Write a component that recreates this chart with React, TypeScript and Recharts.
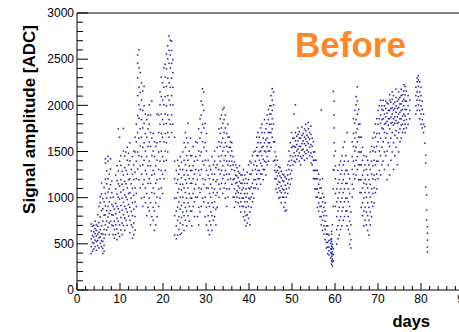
import React from "react";
import { ScatterChart, Scatter, XAxis, YAxis, ReferenceLine } from "recharts";

type Col = [number, number[]];

// [day, amplitudes measured on that day]
const runA: Col[] = [
  [3.3, [395, 470, 555, 640, 715]],
  [3.6, [420, 515, 590, 690]],
  [3.9, [445, 505, 575, 630, 700]],
  [4.2, [470, 540, 610, 665, 745]],
  [4.5, [430, 525, 585, 645, 705]],
  [4.8, [480, 535, 605, 690, 815]],
  [5.1, [455, 565, 625, 730, 905]],
  [5.4, [505, 575, 655, 790, 945, 1010]],
  [5.7, [470, 535, 610, 695, 860, 1040, 1160]],
  [6.0, [395, 450, 525, 605, 745, 880, 990]],
  [6.3, [420, 485, 560, 655, 810, 955, 1110]],
  [6.6, [600, 705, 815, 910, 1045, 1200, 1375, 1420]],
  [6.9, [650, 745, 860, 995, 1150, 1290]],
  [7.2, [680, 790, 905, 1060, 1205, 1395, 1450]],
  [7.5, [600, 725, 830, 955, 1095, 1255]],
  [7.8, [745, 860, 1000, 1140, 1310, 1420]],
  [8.1, [705, 815, 925, 1055, 1180]],
  [8.4, [600, 695, 810, 905, 1005]],
  [8.7, [560, 655, 745, 875]],
];

const runB: Col[] = [
  [9.0, [600, 705, 825, 940, 1095, 1245]],
  [9.3, [545, 660, 775, 905, 1040, 1185, 1345]],
  [9.6, [615, 745, 880, 1005, 1150, 1290, 1745]],
  [9.9, [580, 705, 845, 985, 1125, 1395, 1655]],
  [10.2, [650, 785, 915, 1060, 1195, 1350, 1455]],
  [10.5, [600, 725, 865, 995, 1145, 1285]],
  [10.8, [700, 815, 950, 1085, 1245, 1505, 1750]],
  [11.1, [645, 780, 905, 1030, 1175, 1325, 1450]],
  [11.4, [755, 880, 1005, 1150, 1295, 1495]],
  [11.7, [700, 845, 980, 1105, 1255, 1405, 1545]],
  [12.0, [800, 925, 1045, 1195, 1355, 1480]],
  [12.3, [620, 755, 895, 1055, 1205, 1400, 1595]],
  [12.6, [705, 850, 995, 1150, 1305]],
  [12.9, [560, 680, 805, 945, 1100, 1255, 1445]],
  [13.2, [600, 725, 875, 1025, 1195, 1355, 1505]],
  [13.5, [650, 795, 955, 1105, 1275, 1495, 1655]],
  [13.8, [905, 1045, 1205, 1395, 1605, 1795]],
];

const runC: Col[] = [
  [14.1, [1310, 1495, 1705, 1890, 2105, 2295, 2455, 2545]],
  [14.4, [1195, 1455, 1645, 1860, 2005, 2195, 2405, 2600]],
  [14.7, [1105, 1345, 1560, 1745, 1955, 2140, 2355]],
  [15.0, [995, 1255, 1445, 1655, 1845, 2055, 2245]],
  [15.3, [905, 1145, 1355, 1545, 1755, 1945, 2155]],
  [15.6, [1005, 1195, 1405, 1595, 1805, 1995, 2205]],
  [15.9, [945, 1105, 1295, 1505, 1695, 1905]],
  [16.2, [805, 1045, 1255, 1445, 1655, 1845]],
  [16.5, [895, 1155, 1345, 1555, 1745, 1895]],
  [16.8, [855, 995, 1205, 1395, 1605, 1795, 2005]],
  [17.1, [705, 945, 1155, 1345, 1555, 1705, 1895]],
  [17.4, [795, 1055, 1245, 1455, 1645, 2045]],
  [17.7, [755, 895, 1105, 1295, 1505, 1695]],
  [18.0, [645, 855, 1045, 1255, 1445, 1605]],
  [18.3, [705, 945, 1155, 1345, 1555]],
  [18.6, [795, 1005, 1195, 1405, 1595, 1905]],
];

const runD: Col[] = [
  [19.0, [905, 1095, 1305, 1495, 1705, 1895]],
  [19.3, [995, 1205, 1395, 1605, 1795, 2005, 2145]],
  [19.6, [1105, 1295, 1505, 1695, 1905, 2095, 2305]],
  [19.9, [1045, 1255, 1445, 1655, 1845, 2055, 2245]],
  [20.2, [1205, 1395, 1605, 1795, 2005, 2195, 2405]],
  [20.5, [1295, 1505, 1695, 1905, 2095, 2305, 2445]],
  [20.8, [1405, 1595, 1805, 1995, 2205, 2395, 2555]],
  [21.1, [1495, 1705, 1895, 2105, 2295, 2505, 2645]],
  [21.4, [1655, 1845, 2055, 2245, 2455, 2595, 2750]],
  [21.7, [1795, 2005, 2195, 2405, 2545, 2705]],
  [22.0, [1705, 1895, 2105, 2295, 2455, 2595, 2695]],
  [22.3, [1795, 2005, 2195, 2355, 2495]],
  [22.7, [595, 805, 995, 1205, 1395, 1655]],
];

const runE: Col[] = [
  [23.1, [555, 695, 855, 995, 1155, 1295]],
  [23.4, [595, 755, 895, 1055, 1195, 1405]],
  [23.7, [655, 795, 955, 1095, 1255, 1345]],
  [24.0, [600, 725, 875, 1005, 1145, 1305, 1445]],
  [24.3, [615, 785, 915, 1085, 1215, 1385]],
  [24.6, [705, 845, 1005, 1145, 1305, 1495]],
  [24.9, [645, 805, 945, 1105, 1245, 1405, 1595]],
  [25.2, [755, 895, 1055, 1195, 1355, 1545, 1705]],
  [25.5, [695, 855, 995, 1155, 1295, 1455, 1645]],
  [25.8, [805, 945, 1105, 1245, 1405, 1595, 1805]],
  [26.1, [745, 905, 1045, 1205, 1345, 1505]],
  [26.4, [855, 995, 1155, 1295, 1455, 1645]],
  [26.7, [695, 855, 995, 1155, 1295, 1455]],
  [27.0, [905, 1045, 1205, 1345, 1555]],
  [27.3, [795, 955, 1095, 1255, 1395]],
  [27.6, [1005, 1145, 1305, 1445, 1605]],
];

const runF: Col[] = [
  [28.0, [795, 1005, 1195, 1405, 1595]],
  [28.3, [705, 895, 1105, 1295, 1505, 1745]],
  [28.6, [845, 1055, 1245, 1455, 1645, 1855]],
  [28.9, [905, 1095, 1305, 1495, 1705, 1895, 2045]],
  [29.2, [995, 1205, 1395, 1605, 1795, 2005, 2180]],
  [29.5, [955, 1145, 1355, 1545, 1755, 1945, 2145]],
  [29.8, [795, 1005, 1195, 1405, 1595, 1805]],
  [30.1, [705, 895, 1105, 1295, 1505, 1695]],
  [30.5, [645, 805, 945, 1105, 1245, 1405]],
  [30.8, [600, 745, 905, 1045, 1205, 1345]],
  [31.1, [705, 845, 1005, 1145, 1305]],
  [31.4, [645, 805, 945, 1105, 1255, 1445]],
  [31.7, [755, 895, 1055, 1195, 1355]],
  [32.0, [795, 955, 1095, 1255, 1395, 1505]],
  [32.3, [705, 875, 1025, 1175, 1325]],
  [32.6, [895, 1055, 1195, 1355, 1545]],
];

const runG: Col[] = [
  [33.0, [1005, 1145, 1305, 1445, 1605, 1745]],
  [33.3, [1095, 1255, 1395, 1555, 1695, 1855]],
  [33.6, [1155, 1295, 1455, 1595, 1755, 1895]],
  [33.9, [1045, 1205, 1345, 1505, 1645, 1805, 1955]],
  [34.2, [1105, 1245, 1405, 1545, 1705, 1845, 1975]],
  [34.5, [995, 1155, 1295, 1455, 1595, 1755, 1895]],
  [34.8, [905, 1095, 1255, 1395, 1555, 1695]],
  [35.1, [1005, 1195, 1355, 1495, 1655, 1795]],
  [35.4, [1095, 1255, 1395, 1545, 1655]],
  [35.7, [1205, 1345, 1455, 1545, 1605]],
  [36.0, [1145, 1305, 1395, 1505, 1595]],
  [36.3, [1005, 1195, 1355, 1445]],
  [36.6, [895, 1005, 1095, 1205, 1295, 1385]],
  [36.9, [955, 1045, 1155, 1245, 1355]],
  [37.2, [1005, 1075, 1165, 1235, 1325]],
  [37.5, [945, 1055, 1125, 1215, 1285]],
  [37.8, [905, 995, 1105, 1175, 1265, 1345]],
  [38.1, [845, 955, 1045, 1155, 1245]],
  [38.4, [905, 995, 1085, 1155, 1245]],
  [38.7, [795, 905, 995, 1105, 1195, 1305]],
  [39.0, [755, 845, 955, 1045, 1155, 1245]],
  [39.3, [695, 805, 895, 1005, 1095, 1205]],
  [39.6, [725, 815, 955, 1045, 1155, 1275]],
  [39.9, [775, 905, 995, 1105, 1195, 1355]],
  [40.2, [705, 845, 985, 1095, 1255, 1395]],
  [40.5, [895, 1005, 1115, 1255, 1375]],
  [40.8, [955, 1045, 1155, 1295, 1455]],
  [41.1, [995, 1105, 1195, 1355, 1495]],
];

const runH: Col[] = [
  [41.5, [1105, 1195, 1305, 1395, 1505]],
  [41.8, [1145, 1255, 1345, 1455, 1545, 1655]],
  [42.1, [1095, 1205, 1295, 1455, 1595, 1705]],
  [42.4, [1205, 1295, 1405, 1495, 1655]],
  [42.7, [1145, 1255, 1375, 1505, 1595, 1755]],
  [43.0, [1255, 1345, 1455, 1545, 1705, 1795]],
  [43.3, [1195, 1305, 1415, 1555, 1645]],
  [43.6, [1305, 1395, 1505, 1595, 1705, 1845]],
  [43.9, [1245, 1385, 1495, 1625, 1745]],
  [44.2, [1355, 1445, 1555, 1645, 1805, 1895]],
  [44.5, [1395, 1505, 1595, 1705, 1845, 1955]],
  [44.8, [1505, 1595, 1705, 1795, 1905, 1995]],
  [45.1, [1545, 1705, 1795, 1905, 1995, 2105]],
  [45.4, [1655, 1745, 1855, 1945, 2055, 2180]],
  [45.7, [1395, 1605, 1795, 2005, 2145]],
  [46.0, [1205, 1295, 1405, 1495, 1605]],
  [46.3, [1095, 1205, 1275, 1355, 1445]],
  [46.6, [1055, 1145, 1235, 1295, 1405]],
  [46.9, [995, 1105, 1175, 1265, 1335]],
  [47.2, [1005, 1075, 1165, 1235, 1325]],
  [47.5, [945, 1055, 1125, 1215, 1285]],
  [47.8, [1005, 1095, 1185, 1255]],
  [48.1, [895, 1005, 1085, 1175, 1245]],
  [48.4, [855, 945, 1055, 1135, 1225]],
  [48.7, [865, 1005, 1095, 1205, 1295]],
  [49.0, [1045, 1155, 1245, 1355]],
  [49.3, [1105, 1195, 1305, 1395, 1505]],
  [49.6, [1145, 1255, 1345, 1455, 1595]],
  [49.9, [1205, 1295, 1405, 1545, 1705]],
];

const runI: Col[] = [
  [50.2, [1355, 1445, 1555, 1645]],
  [50.5, [1395, 1485, 1555, 1645, 1905]],
  [50.8, [1385, 1455, 1545, 1615, 1705, 2005]],
  [51.1, [1415, 1505, 1575, 1665]],
  [51.4, [1455, 1525, 1615, 1685, 1755]],
  [51.7, [1395, 1485, 1555, 1645, 1715]],
  [52.0, [1355, 1445, 1555, 1645]],
  [52.3, [1425, 1515, 1585, 1675, 1765]],
  [52.6, [1455, 1525, 1615, 1695]],
  [52.9, [1405, 1495, 1585, 1655, 1745]],
  [53.2, [1475, 1565, 1635, 1725, 1795]],
  [53.5, [1425, 1515, 1605, 1675]],
  [53.8, [1495, 1585, 1655, 1745, 1815]],
  [54.1, [1455, 1545, 1635, 1705]],
  [54.4, [1375, 1485, 1575, 1685, 1775]],
  [54.7, [1355, 1445, 1555, 1645]],
  [55.0, [1205, 1295, 1405, 1495, 1605]],
  [55.3, [1095, 1205, 1295, 1405, 1495]],
  [55.6, [1005, 1095, 1205, 1295, 1405]],
  [55.9, [895, 1005, 1095, 1205, 1295]],
  [56.2, [855, 945, 1055, 1145, 1255]],
  [56.5, [795, 905, 995, 1105, 1195]],
  [56.8, [705, 795, 905, 995, 1105, 1950]],
  [57.1, [645, 755, 845, 955, 1045, 1205]],
  [57.4, [605, 695, 805, 895, 1005]],
  [57.7, [545, 655, 745, 855, 945]],
  [58.0, [455, 515, 605, 695, 805]],
  [58.3, [395, 465, 515, 605, 695]],
  [58.6, [380, 425, 465, 535, 595]],
];

const runJ: Col[] = [
  [59.0, [345, 405, 445, 505, 545]],
  [59.2, [280, 315, 365, 395, 445, 475, 525, 555, 605, 635]],
  [59.4, [260, 305, 335, 385, 415, 465, 495, 705]],
  [59.6, [315, 385, 445, 905, 1095, 1305, 2150]],
  [59.8, [1295, 1455, 1595, 1755, 1895, 2045]],
  [60.1, [905, 1045, 1205, 1345, 1505]],
  [60.4, [495, 655, 795, 955, 1095]],
  [60.7, [555, 695, 855, 995, 1155, 1295]],
  [61.0, [595, 755, 895, 1055, 1195, 1355]],
  [61.3, [655, 795, 955, 1095, 1255, 1395]],
  [61.6, [695, 855, 995, 1155, 1295, 1455]],
  [61.9, [755, 895, 1055, 1195, 1355, 1545]],
  [62.2, [795, 955, 1095, 1255, 1395, 1605]],
  [62.5, [855, 995, 1155, 1295, 1455]],
  [62.8, [695, 855, 995, 1155, 1295, 1705]],
  [63.1, [655, 795, 955, 1095, 1255, 1395]],
  [63.4, [495, 605, 745, 905, 1045, 1205]],
  [63.7, [455, 545, 705, 845]],
];

const runK: Col[] = [
  [64.0, [1005, 1145, 1305, 1445, 1605]],
  [64.3, [1095, 1255, 1395, 1555, 1695, 1855]],
  [64.6, [1205, 1345, 1505, 1645, 1805, 1945]],
  [64.9, [1245, 1405, 1545, 1705, 1845, 2005, 2095]],
  [65.2, [1305, 1445, 1605, 1745, 1905, 2045, 2200]],
  [65.5, [1195, 1355, 1495, 1655, 1795, 1955]],
  [65.8, [1055, 1195, 1355, 1495, 1655, 1795]],
  [66.1, [895, 1055, 1195, 1355, 1495, 1655]],
  [66.4, [805, 945, 1105, 1245, 1405, 1545]],
  [66.7, [695, 855, 995, 1155, 1295, 1455]],
  [67.0, [755, 895, 1055, 1195, 1355]],
  [67.3, [705, 845, 1005, 1145, 1305, 1445]],
  [67.6, [645, 805, 945, 1105, 1245, 1405]],
  [67.9, [595, 755, 895, 1055, 1195, 1355]],
  [68.2, [705, 845, 1005, 1145, 1305, 1495]],
  [68.5, [795, 955, 1095, 1255, 1395, 1555]],
  [68.8, [905, 1045, 1205, 1345, 1505, 1645]],
  [69.1, [945, 1105, 1245, 1405, 1545, 1705]],
  [69.4, [1055, 1195, 1355, 1495, 1655, 1795]],
  [69.7, [1095, 1255, 1395, 1555, 1695, 1855]],
];

const runL: Col[] = [
  [70.0, [1205, 1395, 1605, 1795, 1945]],
  [70.3, [1295, 1505, 1695, 1855, 1995]],
  [70.6, [1245, 1455, 1645, 1805, 1895, 2055]],
  [70.9, [1355, 1545, 1755, 1845, 1955, 1995]],
  [71.2, [1395, 1605, 1745, 1855, 1945, 2055]],
  [71.5, [1305, 1495, 1705, 1795, 1905, 1995]],
  [71.8, [1455, 1645, 1805, 1875, 1965, 2045]],
  [72.1, [1195, 1505, 1695, 1825, 1915, 2025]],
  [72.4, [1355, 1595, 1785, 1855, 1945, 2015]],
  [72.7, [1245, 1555, 1745, 1855, 1945, 2055, 2115]],
  [73.0, [1405, 1645, 1805, 1875, 1965, 2035]],
  [73.3, [1495, 1705, 1815, 1905, 1975, 2065, 2145]],
  [73.6, [1305, 1595, 1785, 1855, 1945, 2015, 2105]],
  [73.9, [1455, 1675, 1805, 1875, 1965, 2035]],
  [74.2, [1545, 1725, 1835, 1925, 1995, 2085, 2175]],
  [74.5, [1355, 1645, 1805, 1875, 1965, 2045]],
  [74.8, [1495, 1705, 1815, 1905, 1975, 2065, 2145]],
  [75.1, [1605, 1745, 1855, 1925, 2015, 2085]],
  [75.4, [1645, 1785, 1855, 1945, 2015, 2105, 2175]],
  [75.7, [1705, 1795, 1885, 1955, 2045, 2115]],
  [76.0, [1745, 1835, 1905, 1995, 2065, 2155, 2225]],
  [76.3, [1705, 1795, 1885, 1955, 2045, 2115, 2205]],
  [76.6, [1755, 1845, 1955, 2045, 2155]],
  [77.0, [1795, 1905, 1995, 2105]],
  [77.4, [1855, 1945, 2055]],
];

const runM: Col[] = [
  [78.8, [1905, 1995, 2105, 2195]],
  [79.1, [1945, 2055, 2145, 2255, 2295]],
  [79.4, [2005, 2095, 2205, 2275, 2320]],
  [79.7, [1855, 1945, 2055, 2145, 2255]],
  [80.0, [1795, 1905, 1995, 2105, 2195]],
  [80.3, [1755, 1845, 1955, 2045]],
  [80.6, [1705, 1795, 1905]],
  [80.9, [1770, 1590]],
  [81.1, [1460, 1375, 1115]],
  [81.3, [1030, 865, 760]],
  [81.5, [685, 615, 540, 465, 410]],
];

const runs: Col[][] = [runA, runB, runC, runD, runE, runF, runG, runH, runI, runJ, runK, runL, runM];

const points = runs.flat().flatMap(([day, vals]) => vals.map((amp) => ({ day, amp })));

const xMajor = [0, 10, 20, 30, 40, 50, 60, 70, 80, 90];
const yMajor = [0, 500, 1000, 1500, 2000, 2500, 3000];
const xTicks: number[] = [];
for (let i = 0; i <= 90; i += 2) xTicks.push(i);
const yTicks: number[] = [];
for (let i = 0; i <= 3000; i += 100) yTicks.push(i);

const FONT = "'Liberation Sans', Arial, Helvetica, sans-serif";

const XTick = (props: any) => {
  const { x, y, payload } = props;
  const v = payload.value;
  const major = xMajor.includes(v);
  return (
    <g>
      <line x1={x} x2={x} y1={y} y2={y - (major ? 7 : 4)} stroke="#000" strokeWidth={1} />
      {major && (
        <text x={x} y={y + 13} textAnchor="middle" fontSize={12} fontFamily={FONT} fill="#000">
          {v}
        </text>
      )}
    </g>
  );
};

const YTick = (props: any) => {
  const { x, y, payload } = props;
  const v = payload.value;
  const major = yMajor.includes(v);
  return (
    <g>
      <line x1={x} x2={x + (major ? 11 : 6)} y1={y} y2={y} stroke="#000" strokeWidth={1} />
      {major && (
        <text x={x - 3} y={y + 4.3} textAnchor="end" fontSize={12} fontFamily={FONT} fill="#000">
          {v}
        </text>
      )}
    </g>
  );
};

const Dot = (p: any) => (
  <rect x={p.cx - 0.75} y={p.cy - 0.75} width={1.5} height={1.5} fill="#1e1e9e" />
);

export default function App() {
  return (
    <div
      style={{
        position: "absolute",
        left: 0,
        top: 0,
        width: 459,
        height: 332,
        overflow: "hidden",
        background: "#fff",
      }}
    >
      <ScatterChart width={480} height={332} margin={{ top: 13, right: 16, bottom: 0, left: 0 }}>
        <XAxis
          type="number"
          dataKey="day"
          domain={[0, 90]}
          ticks={xTicks}
          interval={0}
          tickSize={0}
          tickMargin={0}
          height={42}
          tickLine={false}
          axisLine={{ stroke: "#000" }}
          tick={<XTick />}
        />
        <YAxis
          type="number"
          dataKey="amp"
          domain={[0, 3000]}
          ticks={yTicks}
          interval={0}
          tickSize={0}
          tickMargin={0}
          width={77}
          tickLine={false}
          axisLine={{ stroke: "#000" }}
          tick={<YTick />}
        />
        <ReferenceLine y={3000} stroke="#000" />
        <Scatter data={points} isAnimationActive={false} shape={Dot} />
      </ScatterChart>
      <svg
        width={459}
        height={332}
        style={{ position: "absolute", left: 0, top: 0, pointerEvents: "none" }}
      >
        <text
          x={34.5}
          y={25}
          transform="rotate(-90, 34.5, 25)"
          textAnchor="end"
          fontSize={17}
          fontWeight="bold"
          fontFamily={FONT}
          fill="#000"
        >
          Signal amplitude [ADC]
        </text>
        <text x={430} y={327} textAnchor="end" fontSize={16.5} fontWeight="bold" fontFamily={FONT} fill="#000">
          days
        </text>
        <text x={295} y={57} fontSize={35} fontWeight="bold" fontFamily={FONT} fill="#f7892b">
          Before
        </text>
      </svg>
    </div>
  );
}
